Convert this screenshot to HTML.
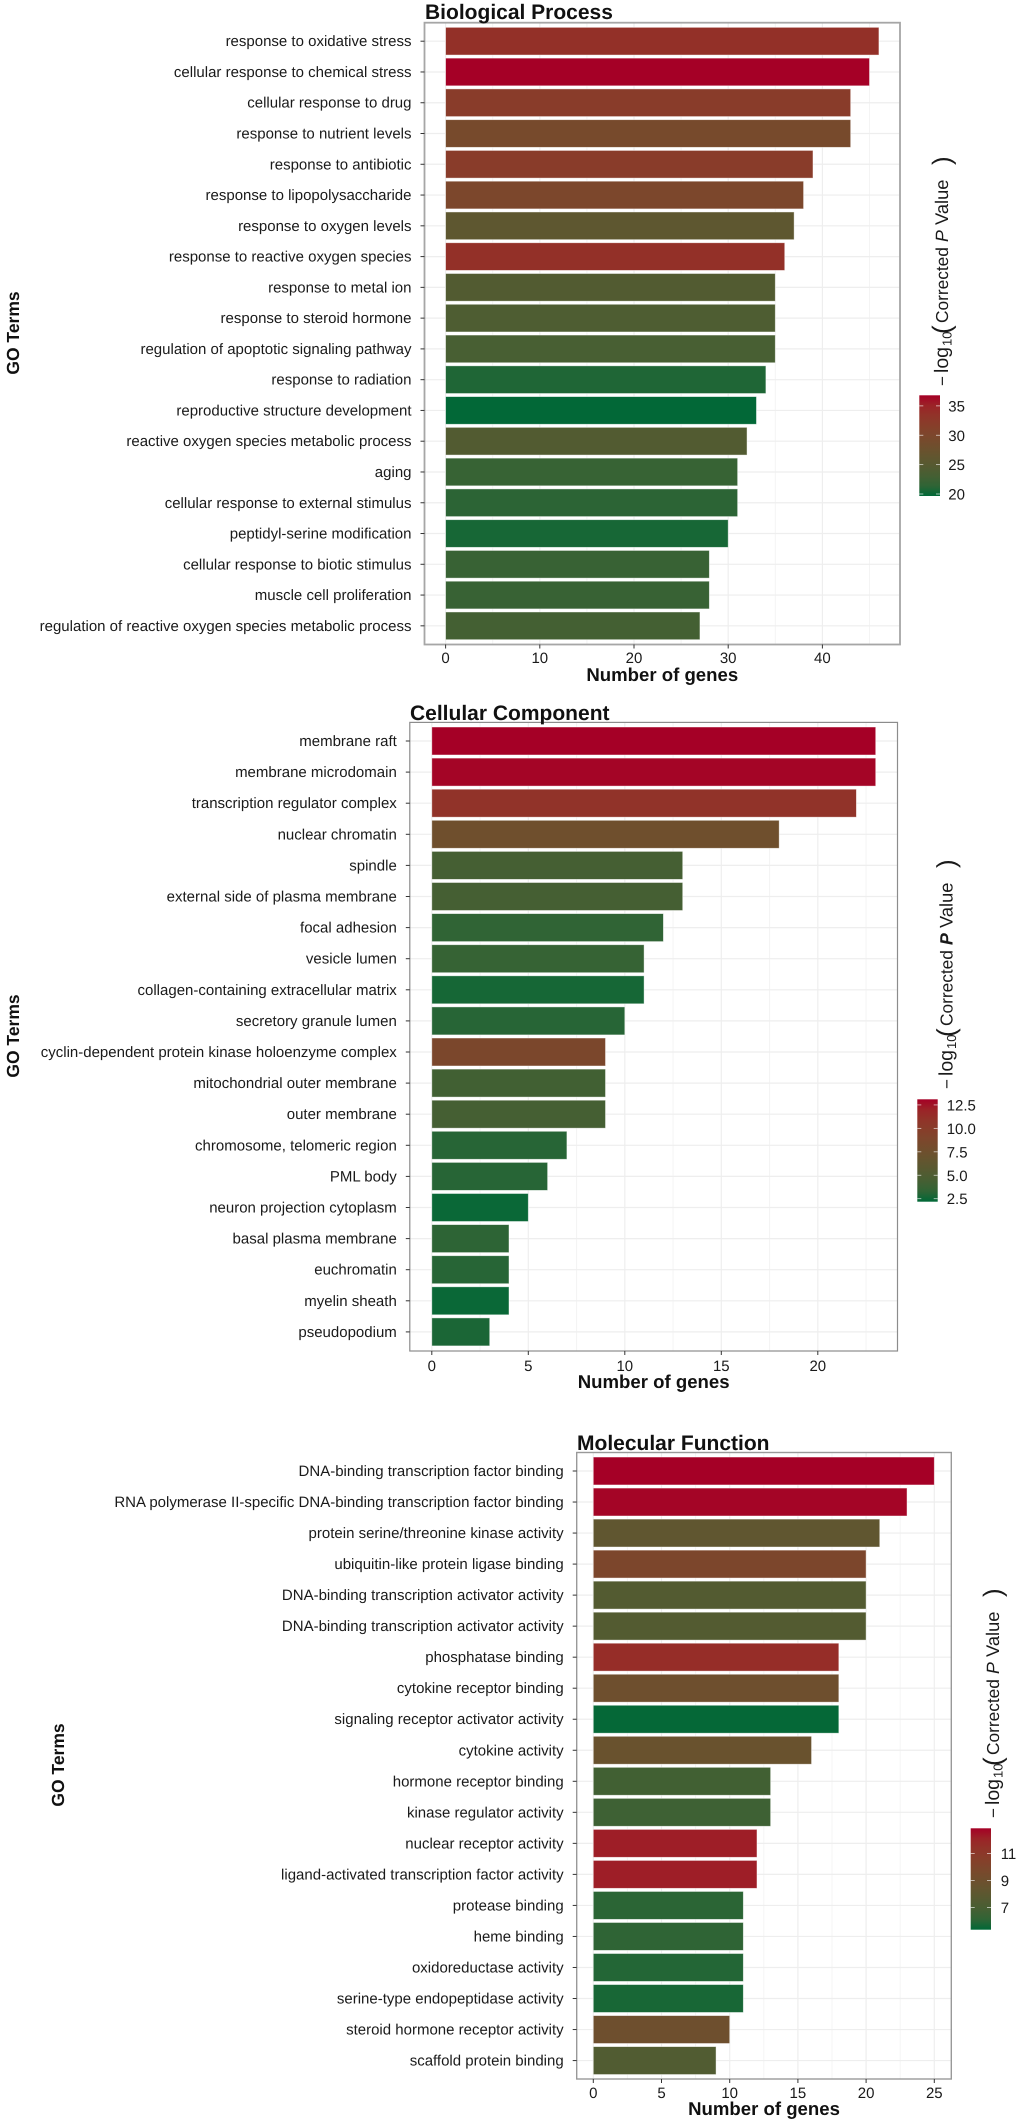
<!DOCTYPE html>
<html lang="en">
<head>
<meta charset="utf-8">
<title>GO enrichment bar charts</title>
<style>
html,body{margin:0;padding:0;background:#fff;}
svg{display:block;font-family:"Liberation Sans",Arial,sans-serif;text-rendering:geometricPrecision;}
</style>
</head>
<body>
<svg id="chart" xmlns="http://www.w3.org/2000/svg" width="1020" height="2124" viewBox="0 0 1020 2124"></svg>
<script>
// ---------- Biological Process data ----------
const bpTerms = ["response to oxidative stress","cellular response to chemical stress","cellular response to drug","response to nutrient levels","response to antibiotic","response to lipopolysaccharide","response to oxygen levels","response to reactive oxygen species","response to metal ion","response to steroid hormone","regulation of apoptotic signaling pathway","response to radiation","reproductive structure development","reactive oxygen species metabolic process","aging","cellular response to external stimulus","peptidyl-serine modification","cellular response to biotic stimulus","muscle cell proliferation","regulation of reactive oxygen species metabolic process"];
const bpGenes = [46,45,43,43,39,38,37,36,35,35,35,34,33,32,31,31,30,28,28,27];
const bpLogP = [33.7,36.8,32,29.3,32,30,25.8,33.7,24.5,24,23.4,20.5,19.7,24.5,21.9,21.2,20.2,22,22,23];
const bpXTicks = [0,10,20,30,40];
const bpXMinor = [5,15,25,35,45];
const bpLegendTicks = [20,25,30,35];
const bpLegendLabels = ["20","25","30","35"];
const bpLegendRange = [19.66,36.8];

// ---------- Cellular Component data ----------
const ccTerms = ["membrane raft","membrane microdomain","transcription regulator complex","nuclear chromatin","spindle","external side of plasma membrane","focal adhesion","vesicle lumen","collagen-containing extracellular matrix","secretory granule lumen","cyclin-dependent protein kinase holoenzyme complex","mitochondrial outer membrane","outer membrane","chromosome, telomeric region","PML body","neuron projection cytoplasm","basal plasma membrane","euchromatin","myelin sheath","pseudopodium"];
const ccGenes = [23,23,22,18,13,13,12,11,11,10,9,9,9,7,6,5,4,4,4,3];
const ccLogP = [13.1,13,10.9,7.6,4.4,4.4,3.3,3.6,2.5,2.95,8.7,4.15,4.4,2.95,2.95,2.3,3.2,2.95,2.3,2.6];
const ccXTicks = [0,5,10,15,20];
const ccXMinor = [2.5,7.5,12.5,17.5,22.5];
const ccLegendTicks = [2.5,5,7.5,10,12.5];
const ccLegendLabels = ["2.5","5.0","7.5","10.0","12.5"];
const ccLegendRange = [2.18,13.1];

// ---------- Molecular Function data ----------
const mfTerms = ["DNA-binding transcription factor binding","RNA polymerase II-specific DNA-binding transcription factor binding","protein serine/threonine kinase activity","ubiquitin-like protein ligase binding","DNA-binding transcription activator activity","DNA-binding transcription activator activity","phosphatase binding","cytokine receptor binding","signaling receptor activator activity","cytokine activity","hormone receptor binding","kinase regulator activity","nuclear receptor activity","ligand-activated transcription factor activity","protease binding","heme binding","oxidoreductase activity","serine-type endopeptidase activity","steroid hormone receptor activity","scaffold protein binding"];
const mfGenes = [25,23,21,20,20,20,18,18,18,16,13,13,12,12,11,11,11,11,10,9];
const mfLogP = [12.87,12.8,8.2,9.9,7.5,7.5,11.7,9,5.4,8.7,6.7,6.6,12.3,12.3,6,6.1,5.8,5.6,9,7.4];
const mfXTicks = [0,5,10,15,20,25];
const mfXMinor = [2.5,7.5,12.5,17.5,22.5];
const mfLegendTicks = [7,9,11];
const mfLegendLabels = ["7","9","11"];
const mfLegendRange = [5.36,12.87];

const lowColor = [0,104,55];
const highColor = [165,0,38];

// ---------- colour helpers (Lab interpolation) ----------
function toLab(c){
  const l = c.map(v=>{v/=255;return v<=0.04045?v/12.92:Math.pow((v+0.055)/1.055,2.4);});
  const X=(0.4124*l[0]+0.3576*l[1]+0.1805*l[2])/0.95047,Y=0.2126*l[0]+0.7152*l[1]+0.0722*l[2],Z=(0.0193*l[0]+0.1192*l[1]+0.9505*l[2])/1.08883;
  const f=t=>t>0.008856?Math.cbrt(t):7.787*t+16/116;
  return [116*f(Y)-16,500*(f(X)-f(Y)),200*(f(Y)-f(Z))];
}
function fromLab(L){
  const y=(L[0]+16)/116,x=L[1]/500+y,z=y-L[2]/200;
  const g=t=>t*t*t>0.008856?t*t*t:(t-16/116)/7.787;
  const X=g(x)*0.95047,Y=g(y),Z=g(z)*1.08883;
  const r=[3.2406*X-1.5372*Y-0.4986*Z,-0.9689*X+1.8758*Y+0.0415*Z,0.0557*X-0.204*Y+1.057*Z];
  return r.map(v=>{v=Math.max(0,Math.min(1,v));v=v<=0.0031308?12.92*v:1.055*Math.pow(v,1/2.4)-0.055;return Math.round(v*255);});
}
const labLow=toLab(lowColor),labHigh=toLab(highColor);
function colorAt(t){
  t=Math.max(0,Math.min(1,t));
  const c=fromLab(labLow.map((v,i)=>v+(labHigh[i]-v)*t));
  return "rgb("+c.join(",")+")";
}

const svg=document.getElementById("chart");
const NS="http://www.w3.org/2000/svg";
function make(tag,attrs,parent,txt){
  const e=document.createElementNS(NS,tag);
  for(const k in attrs)e.setAttribute(k,attrs[k]);
  if(txt!==undefined)e.textContent=txt;
  (parent||svg).appendChild(e);
  return e;
}

function drawPanel(p){
  const g=make("g",{},svg);
  
  
  const xScale=v=>p.x0+v*p.xUnit;
  const yScale=i=>p.y0+i*p.pitch;

  const bg=make("rect",{x:p.left,y:p.top,width:p.right-p.left,height:p.bottom-p.top,fill:"#fff"},g);
  
  

  p.minor.forEach(v=>{
    const l=make("line",{x1:xScale(v),x2:xScale(v),y1:p.top,y2:p.bottom,stroke:"#f4f4f4","stroke-width":1},g);
    
    
  });
  p.ticks.forEach(v=>{
    const l=make("line",{x1:xScale(v),x2:xScale(v),y1:p.top,y2:p.bottom,stroke:"#eeeeee","stroke-width":1.2},g);
    
    
  });
  p.terms.forEach((t,i)=>{
    const l=make("line",{x1:p.left,x2:p.right,y1:yScale(i),y2:yScale(i),stroke:"#eeeeee","stroke-width":1.2},g);
    
    
  });

  const [lo,hi]=p.range;
  p.genes.forEach((v,i)=>{
    const t=(p.logP[i]-lo)/(hi-lo);
    const b=make("rect",{x:xScale(0),y:yScale(i)-p.pitch*0.45,width:xScale(v)-xScale(0),height:p.pitch*0.9,fill:colorAt(t),stroke:"#fff","stroke-opacity":0.55,"stroke-width":0.8},g);
    
    
  });

  const border=make("rect",{x:p.left,y:p.top,width:p.right-p.left,height:p.bottom-p.top,fill:"none",stroke:p.borderColor,"stroke-width":p.borderWidth},g);
  
  

  p.terms.forEach((t,i)=>{
    const tk=make("line",{x1:p.left-4,x2:p.left,y1:yScale(i),y2:yScale(i),stroke:"#333","stroke-width":1},g);
    
    
    const lb=make("text",{x:p.left-13,y:yScale(i)+5,"text-anchor":"end","font-size":15,fill:"#1a1a1a"},g,t);
    
    
  });
  p.ticks.forEach(v=>{
    const tk=make("line",{x1:xScale(v),x2:xScale(v),y1:p.bottom,y2:p.bottom+4,stroke:"#333","stroke-width":1},g);
    
    
    const lb=make("text",{x:xScale(v),y:p.tickBase,"text-anchor":"middle","font-size":15,fill:"#1a1a1a"},g,String(v));
    
    
  });

  const title=make("text",{x:p.titleX,y:p.titleBase,"font-size":21,"font-weight":"bold",fill:"#111"},g,p.title);
  
  

  const xt=make("text",{x:(p.left+p.right)/2,y:p.xTitleBase,"text-anchor":"middle","font-size":18.6,"font-weight":"bold",fill:"#111"},g,"Number of genes");
  
  

  const yt=make("text",{transform:"translate("+p.yTitleX+","+p.yTitleY+") rotate(-90)","text-anchor":"middle","font-size":17.5,"font-weight":"bold",fill:"#111"},g,"GO Terms");
  
  

  // legend
  const L=p.legend;
  const defs=make("defs",{},g);
  const grad=make("linearGradient",{id:"grad-"+p.id,x1:0,y1:1,x2:0,y2:0},defs);
  for(let s=0;s<=10;s++){make("stop",{offset:s/10,"stop-color":colorAt(s/10)},grad);}
  const lgY=v=>L.bottom-(v-lo)/(hi-lo)*(L.bottom-L.top);
  const bar=make("rect",{x:L.x,y:L.top,width:L.w,height:L.bottom-L.top,fill:"url(#grad-"+p.id+")"},g);
  
  
  p.legendTicks.forEach((v,i)=>{
    const y=lgY(v);
    const a=make("line",{x1:L.x,x2:L.x+4,y1:y,y2:y,stroke:"#fff","stroke-opacity":0.75,"stroke-width":0.8},g);
    
    
    const b=make("line",{x1:L.x+L.w-4,x2:L.x+L.w,y1:y,y2:y,stroke:"#fff","stroke-opacity":0.75,"stroke-width":0.8},g);
    
    
    const lb=make("text",{x:L.labelX,y:y+5.5,"font-size":15,fill:"#1a1a1a"},g,p.legendLabels[i]);
    
    
  });

  const lt=make("g",{transform:"translate("+L.titleX+","+L.titleY+") rotate(-90)",fill:"#1a1a1a"},g);
  
  
  make("text",{x:0,y:0,"font-size":17},lt,"\u2212");
  make("text",{x:13,y:0,"font-size":19.5},lt,"log");
  make("text",{x:40,y:3.5,"font-size":13},lt,"10");
  make("text",{x:52,y:2.5,"font-size":26},lt,"(");
  make("text",{x:63,y:0,"font-size":17.3},lt,"Corrected");
  make("text",{x:144,y:0,"font-size":17.8,"font-style":"italic","font-weight":L.pBold?"bold":"normal"},lt,"P");
  make("text",{x:161,y:0,"font-size":18.3},lt,"Value");
  make("text",{x:221,y:2.5,"font-size":26},lt,")");
}

drawPanel({id:"biological-process",title:"Biological Process",terms:bpTerms,genes:bpGenes,logP:bpLogP,ticks:bpXTicks,minor:bpXMinor,
  legendTicks:bpLegendTicks,legendLabels:bpLegendLabels,range:bpLegendRange,
  left:424.5,right:900,top:22.7,bottom:644.5,x0:445.6,xUnit:9.42,y0:41.2,pitch:30.77,
  borderColor:"#a6a6a6",borderWidth:1.8,tickBase:663,xTitleBase:681,titleX:425,titleBase:19,yTitleX:19,yTitleY:333,
  legend:{x:919.3,w:20.7,top:395.3,bottom:496,labelX:948.3,titleX:948,titleY:386}});

drawPanel({id:"cellular-component",title:"Cellular Component",terms:ccTerms,genes:ccGenes,logP:ccLogP,ticks:ccXTicks,minor:ccXMinor,
  legendTicks:ccLegendTicks,legendLabels:ccLegendLabels,range:ccLegendRange,
  left:409.8,right:897.5,top:722.4,bottom:1351,x0:431.8,xUnit:19.3,y0:741,pitch:31.1,
  borderColor:"#8c8c8c",borderWidth:1.2,tickBase:1371,xTitleBase:1388,titleX:410,titleBase:720,yTitleX:19,yTitleY:1036,
  legend:{x:917.3,w:20.4,top:1099.3,bottom:1201.7,labelX:946.7,titleX:952.7,titleY:1089,pBold:true}});

drawPanel({id:"molecular-function",title:"Molecular Function",terms:mfTerms,genes:mfGenes,logP:mfLogP,ticks:mfXTicks,minor:mfXMinor,
  legendTicks:mfLegendTicks,legendLabels:mfLegendLabels,range:mfLegendRange,
  left:576.7,right:951.3,top:1452.5,bottom:2079,x0:593.3,xUnit:13.64,y0:1471,pitch:31.03,
  borderColor:"#999999",borderWidth:1.4,tickBase:2098,xTitleBase:2115,titleX:577,titleBase:1450,yTitleX:64,yTitleY:1765,
  legend:{x:970.7,w:20.3,top:1828.3,bottom:1929.7,labelX:1000.7,titleX:999,titleY:1818}});
</script>
</body>
</html>
